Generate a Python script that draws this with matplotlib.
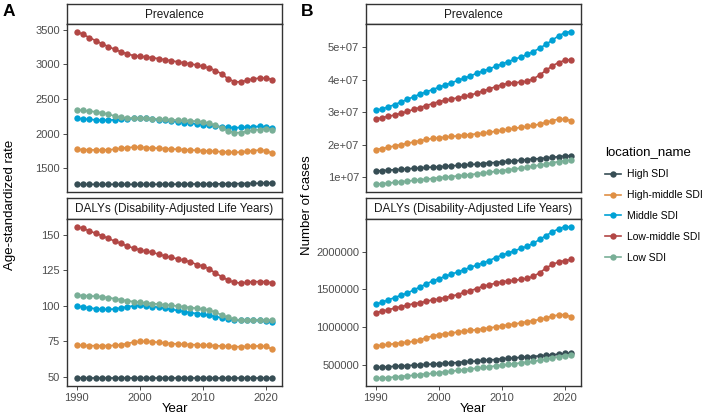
import matplotlib
matplotlib.use('Agg')
import matplotlib.pyplot as plt
from matplotlib.lines import Line2D

plt.rcParams['font.family'] = ['Liberation Sans', 'DejaVu Sans']

years = list(range(1990, 2022))
locations = ['High SDI', 'High-middle SDI', 'Middle SDI', 'Low-middle SDI', 'Low SDI']
colors = ['#374E55', '#DF8F44', '#00A1D5', '#B24745', '#79AF97']

# age-standardized prevalence rate
asr_prev_high = [1270, 1270, 1270, 1270, 1270, 1270, 1270, 1270, 1270, 1270, 1270, 1270, 1270, 1272,
                 1272, 1272, 1273, 1273, 1274, 1275, 1275, 1276, 1277, 1278, 1279, 1280, 1281, 1282,
                 1284, 1286, 1288, 1290]
asr_prev_highmid = [1775, 1770, 1768, 1765, 1765, 1768, 1775, 1790, 1800, 1805, 1805, 1800, 1795, 1790,
                    1785, 1780, 1775, 1770, 1765, 1760, 1755, 1750, 1745, 1740, 1735, 1730, 1735, 1745,
                    1755, 1765, 1755, 1720]
asr_prev_mid = [2220, 2215, 2205, 2200, 2195, 2195, 2200, 2205, 2215, 2220, 2225, 2220, 2210, 2200,
                2190, 2180, 2170, 2160, 2150, 2140, 2130, 2120, 2110, 2100, 2090, 2085, 2090, 2095,
                2100, 2105, 2100, 2080]
asr_prev_lowmid = [3470, 3430, 3385, 3340, 3295, 3255, 3215, 3180, 3150, 3125, 3115, 3105, 3095, 3080,
                   3065, 3050, 3035, 3020, 3005, 2990, 2970, 2945, 2910, 2860, 2790, 2750, 2745, 2770,
                   2790, 2800, 2800, 2780]
asr_prev_low = [2340, 2335, 2325, 2315, 2300, 2280, 2255, 2235, 2225, 2225, 2225, 2220, 2215, 2210,
                2205, 2200, 2195, 2190, 2185, 2180, 2170, 2150, 2120, 2080, 2040, 2015, 2015, 2035,
                2050, 2060, 2065, 2060]

# age-standardized DALY rate
asr_daly_high = [49, 49, 49, 49, 49, 49, 49, 49, 49, 49, 49, 49, 49, 49, 49, 49, 49, 49, 49, 49, 49,
                 49, 49, 49, 49, 49, 49, 49, 49, 49, 49, 49]
asr_daly_highmid = [72.5, 72.2, 72.0, 72.0, 72.0, 72.0, 72.2, 72.6, 73.5, 74.5, 75.0, 75.0, 74.8, 74.3,
                    73.8, 73.5, 73.2, 73.0, 72.8, 72.6, 72.4, 72.2, 72.0, 71.8, 71.5, 71.3, 71.3, 71.5,
                    71.8, 71.8, 71.5, 69.5]
asr_daly_mid = [99.8, 99.3, 98.5, 98.0, 97.5, 97.5, 97.8, 98.5, 99.3, 100.0, 100.3, 100.0, 99.5, 99.0,
                98.3, 97.5, 96.8, 96.0, 95.3, 94.6, 94.0, 93.3, 92.5, 91.6, 90.8, 90.2, 89.8, 89.8,
                89.8, 89.8, 89.6, 88.3]
asr_daly_lowmid = [155.7, 154.5, 152.6, 151.0, 149.3, 147.4, 145.5, 143.9, 142.0, 140.6, 139.4, 138.4,
                   137.5, 136.3, 135.0, 134.0, 133.0, 132.0, 131.0, 129.0, 128.0, 126.0, 123.0, 120.5,
                   118.0, 116.5, 116.0, 116.5, 117.0, 117.0, 117.0, 116.0]
asr_daly_low = [107.5, 107.2, 107.0, 106.7, 106.3, 105.8, 105.0, 104.3, 103.5, 103.0, 102.5, 102.0,
                101.6, 101.2, 100.7, 100.3, 99.8, 99.3, 98.8, 98.3, 97.8, 97.0, 95.5, 93.5, 92.0, 90.5,
                90.0, 90.0, 90.0, 90.0, 90.0, 90.0]

# number of prevalent cases (x 1e7)
num_prev_high = [1.19, 1.20, 1.22, 1.23, 1.24, 1.26, 1.27, 1.28, 1.30, 1.31, 1.32, 1.33, 1.35, 1.36,
                 1.37, 1.39, 1.40, 1.42, 1.44, 1.45, 1.47, 1.49, 1.50, 1.52, 1.54, 1.56, 1.57, 1.59,
                 1.61, 1.63, 1.65, 1.66]
num_prev_highmid = [1.85, 1.88, 1.92, 1.96, 2.00, 2.04, 2.08, 2.12, 2.16, 2.19, 2.21, 2.23, 2.25, 2.27,
                    2.29, 2.31, 2.33, 2.35, 2.38, 2.41, 2.44, 2.47, 2.50, 2.53, 2.56, 2.59, 2.63, 2.68,
                    2.74, 2.78, 2.78, 2.74]
num_prev_mid = [3.05, 3.10, 3.16, 3.23, 3.31, 3.39, 3.47, 3.55, 3.62, 3.69, 3.76, 3.83, 3.90, 3.97,
                4.04, 4.11, 4.19, 4.26, 4.33, 4.40, 4.48, 4.55, 4.62, 4.69, 4.77, 4.86, 4.96, 5.08,
                5.21, 5.34, 5.44, 5.47]
num_prev_lowmid = [2.78, 2.83, 2.87, 2.91, 2.96, 3.02, 3.08, 3.14, 3.20, 3.26, 3.32, 3.36, 3.40, 3.44,
                   3.48, 3.52, 3.58, 3.65, 3.71, 3.78, 3.84, 3.88, 3.90, 3.92, 3.95, 4.02, 4.14, 4.28,
                   4.42, 4.52, 4.59, 4.61]
num_prev_low = [0.78, 0.80, 0.82, 0.84, 0.86, 0.88, 0.90, 0.92, 0.94, 0.96, 0.98, 1.00, 1.02, 1.04,
                1.06, 1.08, 1.10, 1.13, 1.15, 1.18, 1.20, 1.23, 1.25, 1.28, 1.31, 1.34, 1.37, 1.40,
                1.44, 1.48, 1.51, 1.53]

# number of DALYs (x 1e6)
num_daly_high = [0.465, 0.470, 0.475, 0.480, 0.485, 0.490, 0.495, 0.500, 0.505, 0.510, 0.515, 0.520,
                 0.525, 0.530, 0.540, 0.545, 0.550, 0.560, 0.565, 0.570, 0.580, 0.585, 0.590, 0.600,
                 0.605, 0.610, 0.620, 0.625, 0.635, 0.640, 0.650, 0.655]
num_daly_highmid = [0.750, 0.760, 0.770, 0.780, 0.790, 0.800, 0.810, 0.830, 0.860, 0.880, 0.900, 0.910,
                    0.920, 0.935, 0.945, 0.955, 0.965, 0.975, 0.990, 1.000, 1.015, 1.030, 1.040, 1.055,
                    1.070, 1.085, 1.100, 1.120, 1.145, 1.160, 1.165, 1.135]
num_daly_mid = [1.30, 1.33, 1.36, 1.39, 1.42, 1.45, 1.49, 1.53, 1.57, 1.61, 1.64, 1.67, 1.70, 1.73,
                1.76, 1.79, 1.82, 1.85, 1.88, 1.92, 1.95, 1.98, 2.01, 2.04, 2.07, 2.11, 2.16, 2.21,
                2.26, 2.30, 2.33, 2.32]
num_daly_lowmid = [1.19, 1.21, 1.23, 1.25, 1.27, 1.29, 1.31, 1.32, 1.34, 1.36, 1.37, 1.39, 1.41, 1.43,
                   1.46, 1.48, 1.51, 1.54, 1.56, 1.58, 1.60, 1.61, 1.62, 1.63, 1.645, 1.67, 1.72, 1.78,
                   1.83, 1.86, 1.88, 1.895]
num_daly_low = [0.320, 0.325, 0.330, 0.340, 0.345, 0.355, 0.360, 0.370, 0.380, 0.385, 0.395, 0.405,
                0.415, 0.425, 0.435, 0.445, 0.455, 0.465, 0.475, 0.485, 0.495, 0.505, 0.515, 0.525,
                0.535, 0.545, 0.560, 0.575, 0.590, 0.605, 0.620, 0.630]

W, H = 708, 418
fig = plt.figure(figsize=(W / 100, H / 100), dpi=100)


def px_box(x0, y0, x1, y1):
    return [x0 / W, 1 - y1 / H, (x1 - x0) / W, (y1 - y0) / H]


edge = '#333333'
tick_col = '#4D4D4D'
LW, MS = 1.2, 4.6


def make_panel(box, strip_box, title, series, scale, yticks, ylabels, bottom):
    st = fig.add_axes(px_box(*strip_box))
    st.set_xticks([])
    st.set_yticks([])
    for s in st.spines.values():
        s.set_color(edge)
        s.set_linewidth(1.0)
    st.text(0.5, 0.47, title, ha='center', va='center', fontsize=8.5, color='#1A1A1A',
            transform=st.transAxes)

    ax = fig.add_axes(px_box(*box))
    for vals, c in zip(series, colors):
        ax.plot(years, [v * scale for v in vals], color=c, lw=LW, marker='o', ms=MS,
                markeredgewidth=0, zorder=3)
    ax.margins(x=0.05, y=0.05)
    ax.set_yticks([t * 1.0 for t in yticks])
    ax.set_yticklabels(ylabels)
    ax.set_xticks([1990, 2000, 2010, 2020])
    for s in ax.spines.values():
        s.set_color(edge)
        s.set_linewidth(1.0)
    ax.tick_params(axis='both', colors=tick_col, labelcolor=tick_col, labelsize=8,
                   length=3, width=0.7, pad=2)
    if bottom:
        ax.set_xlabel('Year', fontsize=9.5, labelpad=0)
    else:
        ax.tick_params(axis='x', bottom=False, labelbottom=False)
    return ax


series_asr_prev = [asr_prev_high, asr_prev_highmid, asr_prev_mid, asr_prev_lowmid, asr_prev_low]
series_asr_daly = [asr_daly_high, asr_daly_highmid, asr_daly_mid, asr_daly_lowmid, asr_daly_low]
series_num_prev = [num_prev_high, num_prev_highmid, num_prev_mid, num_prev_lowmid, num_prev_low]
series_num_daly = [num_daly_high, num_daly_highmid, num_daly_mid, num_daly_lowmid, num_daly_low]

daly_title = 'DALYs (Disability-Adjusted Life Years)'

make_panel((67, 24, 282, 192), (67, 4, 282, 24), 'Prevalence', series_asr_prev, 1,
           [1500, 2000, 2500, 3000, 3500], ['1500', '2000', '2500', '3000', '3500'], False)
make_panel((67, 219, 282, 386), (67, 198, 282, 219), daly_title, series_asr_daly, 1,
           [50, 75, 100, 125, 150], ['50', '75', '100', '125', '150'], True)
make_panel((366, 24, 581, 192), (366, 4, 581, 24), 'Prevalence', series_num_prev, 1e7,
           [1e7, 2e7, 3e7, 4e7, 5e7], ['1e+07', '2e+07', '3e+07', '4e+07', '5e+07'], False)
make_panel((366, 219, 581, 386), (366, 198, 581, 219), daly_title, series_num_daly, 1e6,
           [5e5, 1e6, 1.5e6, 2e6], ['500000', '1000000', '1500000', '2000000'], True)

fig.text(10 / W, 1 - 205 / H, 'Age-standardized rate', rotation=90, ha='center', va='center',
         fontsize=9.5)
fig.text(307 / W, 1 - 205 / H, 'Number of cases', rotation=90, ha='center', va='center',
         fontsize=9.5)
fig.text(3 / W, 1 - 11 / H, 'A', fontsize=12.5, fontweight='bold', ha='left', va='center')
fig.text(301 / W, 1 - 11 / H, 'B', fontsize=12.5, fontweight='bold', ha='left', va='center')

handles = [Line2D([], [], color=c, lw=LW, marker='o', ms=MS, markeredgewidth=0) for c in colors]
leg = fig.legend(handles, locations, title='location_name', loc='upper left',
                 bbox_to_anchor=(598 / W, 1 - 139 / H), frameon=False, fontsize=7.5,
                 title_fontsize=9.5, handlelength=1.5, handletextpad=0.6, labelspacing=1.05,
                 alignment='left', borderaxespad=0.3)

fig.savefig('out.png', dpi=100)
